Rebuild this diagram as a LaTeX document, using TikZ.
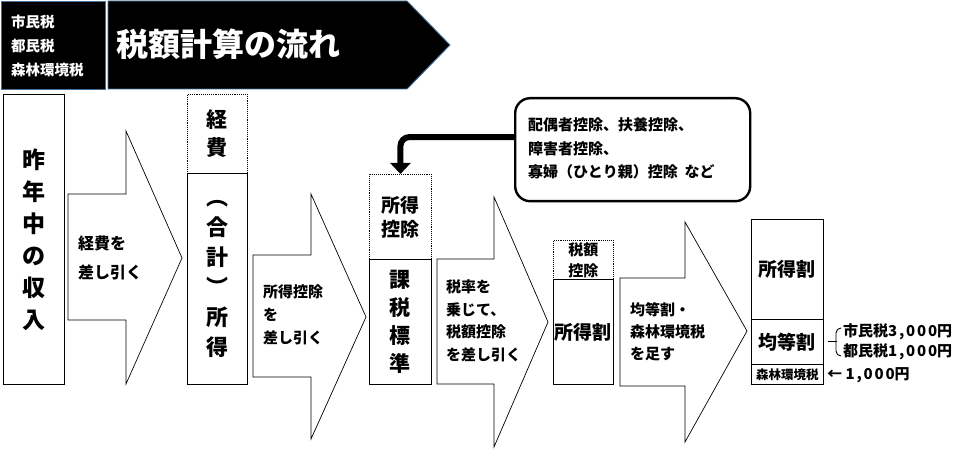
\documentclass[tikz,border=0pt]{standalone}
\usepackage{fontspec}
\setmainfont{Noto Sans CJK JP}
\usetikzlibrary{arrows.meta,calc}
\newcommand\myfs[2]{\fontsize{#1}{#2}\selectfont\bfseries}
\newcommand\wdg[1]{{\addfontfeatures{LetterSpace=12}#1}}
\definecolor{hdrline}{HTML}{41719C}
\begin{document}
\begin{tikzpicture}[x=1pt,y=-1pt,
  box/.style={draw, line width=0.9pt, inner sep=0pt},
  dbox/.style={draw, densely dotted, line width=0.9pt, inner sep=0pt},
  blockarrow/.style={draw, fill=white, line width=0.7pt, line join=miter},
  lt/.style={anchor=west, align=left, inner sep=0pt},
  ct/.style={align=center, inner sep=0pt},
  ]
\useasboundingbox (0,0) rectangle (958,449);

% header
\node[box, draw=hdrline, fill=black, minimum width=104, minimum height=88, anchor=north west] (hbox) at (1,1) {};
\draw[draw=hdrline, fill=black, line width=0.9pt] (108,1) -- (407,1) -- (450,45) -- (407,89) -- (108,89) -- cycle;
\node[lt, text=white, font=\myfs{14.5}{24}] (hlbl) at (11,45.5) {市民税\\都民税\\森林環境税};
\node[lt, text=white, font=\myfs{32}{34}] (title) at (116,44) {税額計算の流れ};

% block arrows
\draw[blockarrow] (68,194) -- (126,194) -- (126,131) -- (182,258) -- (126,384) -- (126,320) -- (68,320) -- cycle;
\draw[blockarrow] (253,255) -- (311,255) -- (311,194) -- (366,317) -- (311,439) -- (311,377) -- (253,377) -- cycle;
\draw[blockarrow] (437,259) -- (494,259) -- (494,197) -- (548,322) -- (494,447) -- (494,384) -- (437,384) -- cycle;
\draw[blockarrow] (620,278) -- (685,278) -- (685,222) -- (747,331) -- (685,442) -- (685,386) -- (620,386) -- cycle;

\node[lt, font=\myfs{16}{29}] (a1) at (78,257.5) {経費を\\差し引く};
\node[lt, font=\myfs{15}{23}] (a2) at (263,315) {所得控除\\を\\差し引く};
\node[lt, font=\myfs{15}{22.5}] (a3) at (446,321) {税率を\\乗じて、\\税額控除\\を差し引く};
\node[lt, font=\myfs{15}{22}] (a4) at (630,331.5) {均等割・\\森林環境税\\を足す};

% boxes
\node[box, minimum width=61, minimum height=290, anchor=north west, font=\myfs{23}{32}, ct] (inc) at (3,94) {昨\\年\\中\\の\\収\\入};
\node[dbox, minimum width=60, minimum height=79, anchor=north west, font=\myfs{21}{28}, ct] (keihi) at (187,94) {経\\費};
\node[box, minimum width=60, minimum height=211, anchor=north west, font=\myfs{22}{30}, ct] (shotoku) at (187,173) {︵\\合\\計\\︶\\所\\得};
\node[dbox, minimum width=62, minimum height=85, anchor=north west, font=\myfs{19}{24}, ct] (kojo) at (369,174) {所得\\控除};
\node[box, minimum width=62, minimum height=125, anchor=north west, font=\myfs{21}{28}, ct] (kazei) at (369,259) {課\\税\\標\\準};
\node[dbox, minimum width=60, minimum height=39, anchor=north west, font=\myfs{15}{21}, ct] (zkojo) at (553,240) {税額\\控除};
\node[box, minimum width=60, minimum height=105, anchor=north west, font=\myfs{19}{22}, ct] (swari) at (553,279) {所得割};
\node[box, minimum width=72, minimum height=100, anchor=north west, font=\myfs{19}{22}, ct] (fswari) at (751,219) {所得割};
\node[box, minimum width=72, minimum height=45, anchor=north west, font=\myfs{19}{22}, ct] (kinto) at (751,319) {均等割};
\node[box, minimum width=72, minimum height=20, anchor=north west, font=\myfs{12.5}{14}, ct] (shinrin) at (751,364) {森林環境税};

% callout
\node[draw, line width=2.4pt, rounded corners=15pt, minimum width=235, minimum height=103, anchor=north west] (call) at (514,97) {};
\node[lt, font=\myfs{15}{23.5}] (calltxt) at (528,148.5) {配偶者控除、扶養控除、\\障害者控除、\\寡婦（ひとり親）控除\ \ など};
\draw[line width=6pt, rounded corners=9pt, -{Triangle[width=20pt,length=11pt]}]
  ($(call.north west)!0.38!(call.south west)$) -| (kojo.north);

% right side notes
\draw[line width=0.9pt] (kinto.east) ++(4,-0.5) -- ++(9,0);
\draw[line width=0.9pt] (841,328) to[out=180,in=90] (836,333) -- (836,351) to[out=-90,in=180] (841,356);
\node[lt, font=\myfs{15}{20}] (notes) at (843,342) {市民税\wdg{3,000}円\\都民税\wdg{1,000}円};
\node[lt, font=\myfs{15}{16}] (note2) at (827,375) {← \wdg{1,000}円};
\end{tikzpicture}
\end{document}
